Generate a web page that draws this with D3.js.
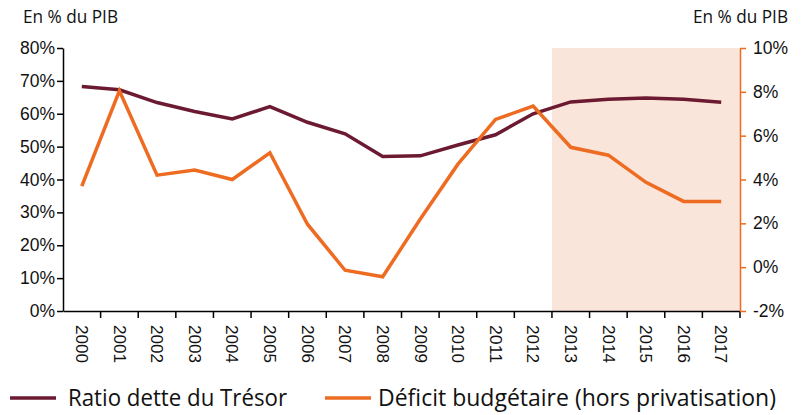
<!DOCTYPE html>
<html><head><meta charset="utf-8">
<script src="https://cdn.jsdelivr.net/npm/d3@7"></script>
<style>body{margin:0;background:#fff}svg{display:block;font-family:"Open Sans",sans-serif}</style>
</head><body><svg id="c" width="803" height="415"></svg>
<script>
const years = ["2000","2001","2002","2003","2004","2005","2006","2007","2008","2009","2010","2011","2012","2013","2014","2015","2016","2017"];
const ratioDette = [68.3,67.3,63.4,60.7,58.4,62.2,57.4,53.9,47.0,47.2,50.5,53.6,60.0,63.6,64.4,64.8,64.4,63.5];
const deficit = [3.7,8.05,4.2,4.43,4.0,5.22,1.96,-0.14,-0.44,2.2,4.7,6.74,7.35,5.47,5.11,3.87,3.0,3.0];
const leftTicks = [0,10,20,30,40,50,60,70,80];
const rightTicks = [-2,0,2,4,6,8,10];
const projectionStart = "2013";
const seriesNames = ["Ratio dette du Trésor","Déficit budgétaire (hors privatisation)"];

const svg = d3.select("#c");
const L = 63, R = 740, T = 48, B = 311;
const x = d3.scaleBand().domain(years).range([L,R]);
const yL = d3.scaleLinear().domain([0,80]).range([B,T]);
const yR = d3.scaleLinear().domain([-2,10]).range([B,T]);
const cRatio = "#6b1a32", cDef = "#ee6b22";

svg.append("rect").attr("x",x(projectionStart)).attr("y",T)
  .attr("width",R-x(projectionStart)).attr("height",B-T).attr("fill","#f9e5da");

const gx = svg.append("g").attr("transform",`translate(0,${B})`)
  .call(d3.axisBottom(x).tickSize(0).tickFormat(d=>d));
gx.select(".domain").attr("stroke","#000").attr("stroke-width",1.5);
gx.selectAll("text").attr("transform","rotate(90)").attr("text-anchor","start")
  .attr("x",14).attr("y",0).attr("dy","0.35em").attr("font-size",16.5).attr("fill","#111")
  .attr("textLength",38).attr("lengthAdjust","spacingAndGlyphs");
svg.append("g").selectAll("line").data(years).join("line")
  .attr("x1",(d,i)=>L+(i+1)*x.step()).attr("x2",(d,i)=>L+(i+1)*x.step())
  .attr("y1",B).attr("y2",B+7).attr("stroke","#000").attr("stroke-width",1.5);

const gl = svg.append("g").attr("transform",`translate(${L},0)`)
  .call(d3.axisLeft(yL).tickValues(leftTicks).tickFormat(d=>d+"%").tickSize(6).tickSizeOuter(0));
gl.select(".domain").attr("stroke","#000").attr("stroke-width",1.5);
gl.selectAll(".tick line").attr("stroke","#000").attr("stroke-width",1.5);
gl.selectAll("text").attr("font-size",17.5).attr("fill","#111").attr("x",-8);

const gr = svg.append("g").attr("transform",`translate(${R},0)`)
  .call(d3.axisRight(yR).tickValues(rightTicks).tickFormat(d=>d+"%").tickSize(6).tickSizeOuter(0));
gr.select(".domain").attr("stroke",cDef).attr("stroke-width",1.5);
gr.selectAll(".tick line").attr("stroke",cDef).attr("stroke-width",1.5);
gr.selectAll("text").attr("font-size",17.5).attr("fill","#111").attr("x",13);

const cx = d => x(d)+x.bandwidth()/2;
svg.append("path").datum(ratioDette).attr("fill","none").attr("stroke",cRatio).attr("stroke-width",3.5)
  .attr("d",d3.line().x((d,i)=>cx(years[i])).y(d=>yL(d)));
svg.append("path").datum(deficit).attr("fill","none").attr("stroke",cDef).attr("stroke-width",3.5)
  .attr("d",d3.line().x((d,i)=>cx(years[i])).y(d=>yR(d)));

svg.append("text").attr("x",23).attr("y",23).attr("font-size",17.5).attr("fill","#111")
  .attr("textLength",95).attr("lengthAdjust","spacingAndGlyphs").text("En % du PIB");
svg.append("text").attr("x",693).attr("y",23).attr("font-size",17.5).attr("fill","#111")
  .attr("textLength",95).attr("lengthAdjust","spacingAndGlyphs").text("En % du PIB");

const leg = [{n:seriesNames[0],c:cRatio,x:10,tx:68,w:219},{n:seriesNames[1],c:cDef,x:325,tx:378,w:398}];
const lg = svg.append("g").selectAll("g").data(leg).join("g");
lg.append("line").attr("x1",d=>d.x).attr("x2",d=>d.x+46).attr("y1",398).attr("y2",398)
  .attr("stroke",d=>d.c).attr("stroke-width",3.5);
lg.append("text").attr("x",d=>d.tx).attr("y",405.5).attr("font-size",23.5).attr("fill","#111")
  .attr("textLength",d=>d.w).attr("lengthAdjust","spacingAndGlyphs").text(d=>d.n);
</script></body></html>
